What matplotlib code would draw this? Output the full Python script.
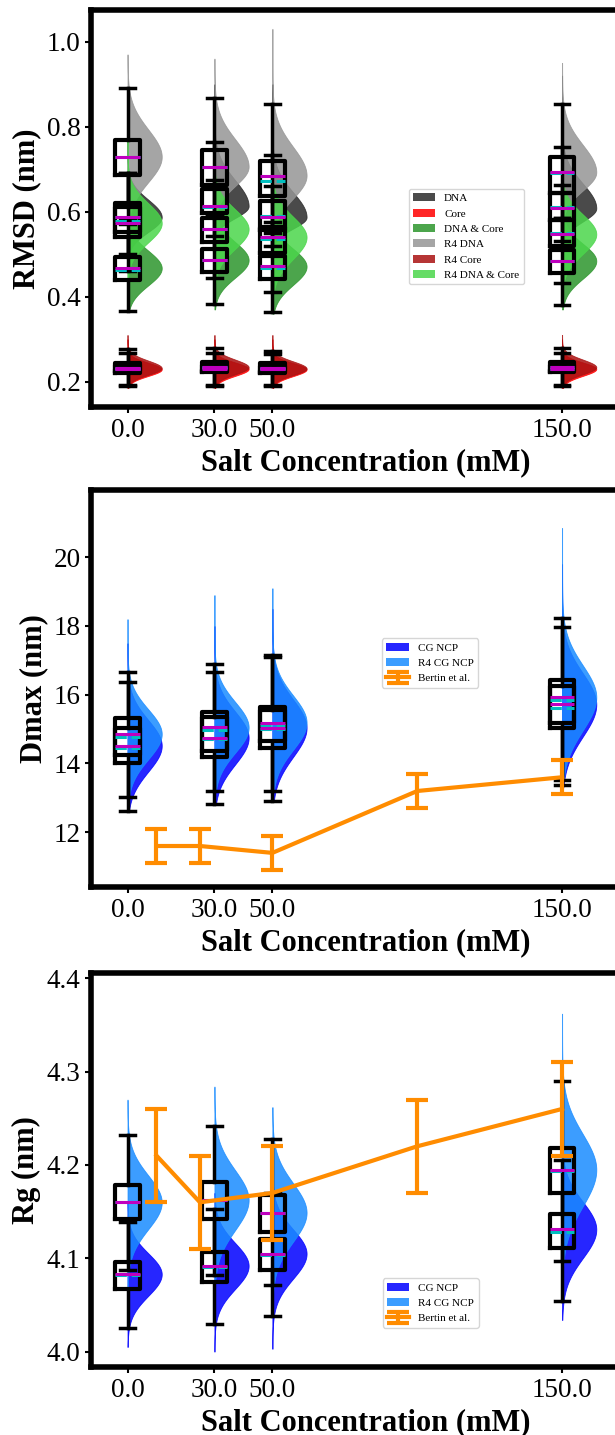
import numpy as np
import matplotlib
matplotlib.use("Agg")
import matplotlib.pyplot as plt
from matplotlib.patches import Patch

plt.rcParams['font.family'] = 'serif'
plt.rcParams['font.serif'] = ['Liberation Serif', 'DejaVu Serif']

salt = [0.0, 30.0, 50.0, 150.0]
salt_labels = ['0.0', '30.0', '50.0', '150.0']

# every row: (min, lower whisker, q1, median, q3, upper whisker, max), one row per salt
dna = [(0.47, 0.500, 0.553, 0.587, 0.621, 0.690, 0.80),
       (0.50, 0.543, 0.596, 0.613, 0.653, 0.765, 0.90),
       (0.49, 0.520, 0.557, 0.587, 0.624, 0.733, 0.90),
       (0.50, 0.530, 0.580, 0.608, 0.645, 0.753, 0.92)]
dna_mean = [0.588, 0.610, 0.590, 0.612]

core = [(0.185, 0.190, 0.221, 0.229, 0.239, 0.268, 0.30),
        (0.185, 0.189, 0.222, 0.230, 0.240, 0.268, 0.30),
        (0.185, 0.189, 0.221, 0.229, 0.238, 0.266, 0.30),
        (0.185, 0.189, 0.222, 0.230, 0.240, 0.268, 0.30)]
core_mean = [0.229, 0.231, 0.229, 0.230]

dna_core = [(0.37, 0.366, 0.439, 0.467, 0.493, 0.570, 0.66),
            (0.37, 0.383, 0.459, 0.486, 0.512, 0.592, 0.68),
            (0.36, 0.363, 0.441, 0.471, 0.496, 0.575, 0.66),
            (0.37, 0.380, 0.455, 0.484, 0.510, 0.585, 0.68)]
dna_core_mean = [0.463, 0.487, 0.468, 0.484]

r4_dna = [(0.55, 0.580, 0.686, 0.729, 0.769, 0.890, 0.97),
          (0.56, 0.592, 0.663, 0.706, 0.745, 0.867, 0.96),
          (0.52, 0.550, 0.637, 0.685, 0.720, 0.853, 1.03),
          (0.55, 0.585, 0.645, 0.693, 0.729, 0.853, 0.95)]
r4_dna_mean = [0.728, 0.705, 0.672, 0.690]

r4_core = [(0.19, 0.192, 0.224, 0.232, 0.245, 0.276, 0.31),
           (0.19, 0.192, 0.225, 0.234, 0.246, 0.279, 0.31),
           (0.19, 0.192, 0.223, 0.231, 0.243, 0.273, 0.31),
           (0.19, 0.192, 0.225, 0.234, 0.246, 0.279, 0.31)]
r4_core_mean = [0.232, 0.234, 0.231, 0.234]

r4_dna_core = [(0.44, 0.460, 0.541, 0.573, 0.612, 0.690, 0.78),
               (0.43, 0.443, 0.529, 0.559, 0.584, 0.675, 0.78),
               (0.41, 0.412, 0.502, 0.540, 0.565, 0.660, 0.76),
               (0.43, 0.431, 0.518, 0.547, 0.580, 0.663, 0.78)]
r4_dna_core_mean = [0.578, 0.560, 0.535, 0.550]

cg_dmax = [(12.6, 12.63, 14.01, 14.52, 15.03, 16.38, 17.5),
           (12.8, 12.81, 14.20, 14.75, 15.36, 16.65, 18.0),
           (12.9, 12.92, 14.44, 15.04, 15.56, 17.10, 18.5),
           (13.3, 13.38, 15.03, 15.72, 16.24, 17.98, 19.8)]
cg_dmax_mean = [14.45, 14.70, 15.00, 15.62]

r4_dmax = [(13.0, 13.02, 14.25, 14.86, 15.32, 16.65, 18.2),
           (13.2, 13.21, 14.35, 15.05, 15.51, 16.90, 18.9),
           (13.2, 13.21, 14.64, 15.19, 15.65, 17.16, 19.1),
           (13.5, 13.52, 15.17, 15.93, 16.43, 18.24, 20.85)]
r4_dmax_mean = [14.78, 14.98, 15.12, 15.85]

cg_rg = [(4.005, 4.025, 4.067, 4.083, 4.096, 4.139, 4.16),
         (4.000, 4.030, 4.075, 4.092, 4.107, 4.153, 4.17),
         (4.003, 4.038, 4.0875, 4.105, 4.121, 4.170, 4.19),
         (4.034, 4.054, 4.111, 4.131, 4.148, 4.205, 4.22)]
cg_rg_mean = [4.082, 4.091, 4.104, 4.128]

r4_rg = [(4.07, 4.088, 4.142, 4.160, 4.179, 4.232, 4.27),
         (4.07, 4.082, 4.142, 4.1625, 4.182, 4.242, 4.284),
         (4.06, 4.071, 4.1286, 4.149, 4.168, 4.2275, 4.262),
         (4.08, 4.097, 4.170, 4.195, 4.218, 4.290, 4.362)]
r4_rg_mean = [4.160, 4.162, 4.149, 4.193]

# Bertin et al. experimental values
bertin_salt = [10, 25, 50, 100, 150]
bertin_dmax = [11.6, 11.6, 11.4, 13.2, 13.6]
bertin_dmax_err = [0.5, 0.5, 0.5, 0.5, 0.5]
bertin_rg = [4.21, 4.16, 4.17, 4.22, 4.26]
bertin_rg_err = [0.05, 0.05, 0.05, 0.05, 0.05]

ALPHA = 0.85
VIOLIN_W = 11.8
BOX_W = 8.4


def half_violin(ax, rows, color):
    for pos, row in zip(salt, rows):
        lo, wl, q1, med, q3, wh, hi = row
        y = np.linspace(lo, hi, 400)
        sd_lo = (med - wl) / 2.5
        sd_hi = (wh - med) / 2.5
        z = np.where(y < med, (y - med) / sd_lo, (y - med) / sd_hi)
        d = np.exp(-0.5 * z ** 2)
        ax.fill_betweenx(y, pos, pos + VIOLIN_W * d / d.max(), facecolor=color,
                         edgecolor=color, alpha=ALPHA, lw=0.6, zorder=1)


def boxes(ax, rows, means):
    stats = []
    for row, m in zip(rows, means):
        lo, wl, q1, med, q3, wh, hi = row
        stats.append(dict(whislo=wl, q1=q1, med=med, q3=q3, whishi=wh, mean=m, fliers=[]))
    ax.bxp(stats, positions=salt, widths=BOX_W, capwidths=5.0, showmeans=True,
           meanline=True, showfliers=False, manage_ticks=False, zorder=3,
           boxprops=dict(color='k', lw=3),
           whiskerprops=dict(color='k', lw=2.5),
           capprops=dict(color='k', lw=2.5),
           medianprops=dict(color='m', lw=2.2, zorder=3.2),
           meanprops=dict(color='c', ls='--', lw=2.2, zorder=3.1))


def style_axes(ax, ylabel):
    for s in ax.spines.values():
        s.set_linewidth(4)
    ax.set_xticks(salt)
    ax.set_xticklabels(salt_labels)
    ax.tick_params(labelsize=19.5, width=1.5, length=4)
    ax.set_xlabel('Salt Concentration (mM)', fontsize=22, fontweight='bold')
    ax.set_ylabel(ylabel, fontsize=22, fontweight='bold')
    ax.set_xlim(-12.6, 176.9)


fig = plt.figure(figsize=(6.15, 14.35), dpi=100)

# RMSD
ax1 = fig.add_axes([0.148, 0.7162, 0.8927, 0.2769])
rmsd_sets = [('DNA', dna, dna_mean, '#2a2a2a'),
             ('Core', core, core_mean, '#ff0000'),
             ('DNA & Core', dna_core, dna_core_mean, '#2d962d'),
             ('R4 DNA', r4_dna, r4_dna_mean, '#969696'),
             ('R4 Core', r4_core, r4_core_mean, '#aa1111'),
             ('R4 DNA & Core', r4_dna_core, r4_dna_core_mean, '#4bd64b')]
handles = []
for name, rows, means, col in rmsd_sets:
    half_violin(ax1, rows, col)
    handles.append(Patch(facecolor=col, alpha=ALPHA, label=name))
for name, rows, means, col in rmsd_sets:
    boxes(ax1, rows, means)
style_axes(ax1, 'RMSD (nm)')
ax1.set_ylim(0.1398, 1.0746)
ax1.set_yticks([0.2, 0.4, 0.6, 0.8, 1.0])
ax1.set_yticklabels(['0.2', '0.4', '0.6', '0.8', '1.0'])
ax1.legend(handles=handles, loc='upper left', bbox_to_anchor=(0.6644, 0.8683),
           bbox_transform=fig.transFigure, borderaxespad=0, fontsize=8)


def ncp_panel(rect, cg, cg_mean, r4, r4_mean, exp_val, exp_err, ylabel, anchor):
    ax = fig.add_axes(rect)
    half_violin(ax, cg, '#0000ff')
    half_violin(ax, r4, '#1a8cff')
    boxes(ax, cg, cg_mean)
    boxes(ax, r4, r4_mean)
    eb = ax.errorbar(bertin_salt, exp_val, yerr=exp_err, color='darkorange', lw=3,
                     elinewidth=3, capsize=8, capthick=3, zorder=4, label='Bertin et al.')
    h = [Patch(facecolor='#0000ff', alpha=ALPHA, label='CG NCP'),
         Patch(facecolor='#1a8cff', alpha=ALPHA, label='R4 CG NCP'), eb]
    ax.legend(handles=h, loc='upper left', bbox_to_anchor=anchor,
              bbox_transform=fig.transFigure, borderaxespad=0, fontsize=8)
    style_axes(ax, ylabel)
    return ax


ax2 = ncp_panel([0.148, 0.3817, 0.8927, 0.2769], cg_dmax, cg_dmax_mean, r4_dmax, r4_dmax_mean,
                bertin_dmax, bertin_dmax_err, 'Dmax (nm)', (0.6211, 0.5552))
ax2.set_ylim(10.40, 21.958)
ax2.set_yticks([12, 14, 16, 18, 20])

ax3 = ncp_panel([0.148, 0.0472, 0.8927, 0.275], cg_rg, cg_rg_mean, r4_rg, r4_rg_mean,
                bertin_rg, bertin_rg_err, 'Rg (nm)', (0.6223, 0.1092))
ax3.set_ylim(3.9833, 4.406)
ax3.set_yticks([4.0, 4.1, 4.2, 4.3, 4.4])
ax3.set_yticklabels(['4.0', '4.1', '4.2', '4.3', '4.4'])

fig.savefig('out.png', dpi=100)
